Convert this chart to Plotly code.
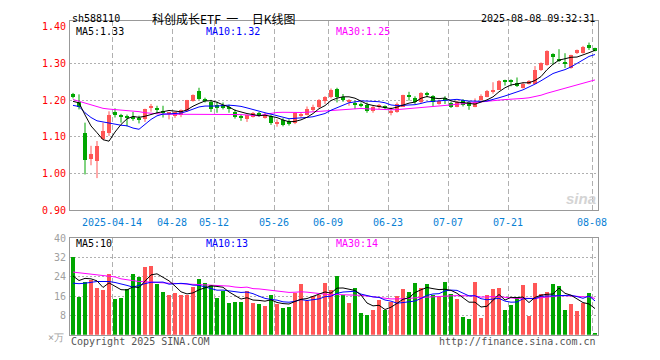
import numpy as np
import pandas as pd
import plotly.graph_objects as go

# ---------------- data ----------------
dates = [
    "2025-04-02", "2025-04-03", "2025-04-07", "2025-04-08", "2025-04-09", "2025-04-10", "2025-04-11",
    "2025-04-14", "2025-04-15", "2025-04-16", "2025-04-17", "2025-04-18", "2025-04-21", "2025-04-22",
    "2025-04-23", "2025-04-24", "2025-04-25", "2025-04-28", "2025-04-29", "2025-04-30",
    "2025-05-06", "2025-05-07", "2025-05-08", "2025-05-09", "2025-05-12", "2025-05-13", "2025-05-14",
    "2025-05-15", "2025-05-16", "2025-05-19", "2025-05-20", "2025-05-21", "2025-05-22", "2025-05-23",
    "2025-05-26", "2025-05-27", "2025-05-28", "2025-05-29", "2025-05-30",
    "2025-06-03", "2025-06-04", "2025-06-05", "2025-06-06", "2025-06-09", "2025-06-10", "2025-06-11",
    "2025-06-12", "2025-06-13", "2025-06-16", "2025-06-17", "2025-06-18", "2025-06-19", "2025-06-20",
    "2025-06-23", "2025-06-24", "2025-06-25", "2025-06-26", "2025-06-27", "2025-06-30",
    "2025-07-01", "2025-07-02", "2025-07-03", "2025-07-04", "2025-07-07", "2025-07-08", "2025-07-09",
    "2025-07-10", "2025-07-11", "2025-07-14", "2025-07-15", "2025-07-16", "2025-07-17", "2025-07-18",
    "2025-07-21", "2025-07-22", "2025-07-23", "2025-07-24", "2025-07-25", "2025-07-28", "2025-07-29",
    "2025-07-30", "2025-07-31",
    "2025-08-01", "2025-08-04", "2025-08-05", "2025-08-06", "2025-08-07", "2025-08-08",
]

open_ = [1.216, 1.195, 1.110, 1.040, 1.034, 1.094, 1.110, 1.169, 1.158, 1.155,
         1.151, 1.150, 1.150, 1.180, 1.176, 1.172, 1.163, 1.157, 1.159, 1.171,
         1.199, 1.224, 1.202, 1.196, 1.188, 1.187, 1.182, 1.168, 1.155, 1.150,
         1.155, 1.162, 1.153, 1.157, 1.138, 1.146, 1.143, 1.139, 1.158, 1.161,
         1.173, 1.182, 1.197, 1.208, 1.232, 1.208, 1.195, 1.191, 1.189, 1.188,
         1.170, 1.183, 1.182, 1.167, 1.168, 1.183, 1.215, 1.207, 1.196, 1.221,
         1.212, 1.190, 1.204, 1.193, 1.183, 1.200, 1.195, 1.183, 1.201, 1.210,
         1.223, 1.229, 1.253, 1.255, 1.248, 1.234, 1.245, 1.245, 1.282, 1.295,
         1.326, 1.311, 1.303, 1.287, 1.328, 1.328, 1.350, 1.341]
high = [1.220, 1.216, 1.139, 1.076, 1.089, 1.139, 1.170, 1.178, 1.163, 1.161,
        1.168, 1.158, 1.177, 1.190, 1.185, 1.185, 1.168, 1.168, 1.175, 1.201,
        1.216, 1.234, 1.207, 1.201, 1.196, 1.194, 1.188, 1.175, 1.161, 1.161,
        1.168, 1.168, 1.166, 1.161, 1.148, 1.151, 1.148, 1.168, 1.166, 1.183,
        1.188, 1.203, 1.211, 1.232, 1.234, 1.217, 1.203, 1.199, 1.194, 1.194,
        1.185, 1.190, 1.186, 1.181, 1.194, 1.215, 1.223, 1.211, 1.222, 1.223,
        1.214, 1.201, 1.211, 1.196, 1.199, 1.203, 1.199, 1.205, 1.216, 1.228,
        1.249, 1.255, 1.256, 1.257, 1.262, 1.249, 1.255, 1.293, 1.303, 1.336,
        1.328, 1.339, 1.328, 1.324, 1.338, 1.348, 1.357, 1.343]
low = [1.205, 1.175, 0.998, 1.023, 0.988, 1.092, 1.103, 1.153, 1.139, 1.129,
       1.144, 1.137, 1.141, 1.169, 1.164, 1.153, 1.148, 1.152, 1.154, 1.169,
       1.196, 1.201, 1.194, 1.168, 1.166, 1.175, 1.166, 1.150, 1.144, 1.141,
       1.153, 1.155, 1.150, 1.133, 1.128, 1.129, 1.131, 1.135, 1.153, 1.159,
       1.170, 1.179, 1.190, 1.205, 1.194, 1.196, 1.185, 1.176, 1.181, 1.166,
       1.166, 1.176, 1.175, 1.159, 1.166, 1.182, 1.199, 1.190, 1.192, 1.208,
       1.183, 1.188, 1.190, 1.179, 1.181, 1.183, 1.174, 1.181, 1.198, 1.208,
       1.218, 1.228, 1.240, 1.238, 1.236, 1.232, 1.243, 1.245, 1.280, 1.294,
       1.297, 1.304, 1.288, 1.286, 1.326, 1.327, 1.337, 1.333]
close = [1.211, 1.181, 1.037, 1.053, 1.076, 1.116, 1.161, 1.161, 1.156, 1.153,
         1.149, 1.148, 1.176, 1.182, 1.174, 1.164, 1.165, 1.167, 1.173, 1.200,
         1.214, 1.203, 1.200, 1.177, 1.179, 1.178, 1.175, 1.154, 1.153, 1.159,
         1.164, 1.160, 1.161, 1.139, 1.140, 1.132, 1.135, 1.166, 1.160, 1.175,
         1.183, 1.201, 1.208, 1.229, 1.208, 1.201, 1.201, 1.189, 1.187, 1.170,
         1.182, 1.185, 1.180, 1.169, 1.190, 1.214, 1.208, 1.194, 1.221, 1.214,
         1.194, 1.199, 1.202, 1.183, 1.196, 1.188, 1.184, 1.196, 1.211, 1.226,
         1.229, 1.253, 1.251, 1.249, 1.240, 1.245, 1.253, 1.282, 1.302, 1.334,
         1.319, 1.309, 1.301, 1.322, 1.337, 1.346, 1.341, 1.334]
volume = [32.0, 15.7, 21.6, 22.7, 19.3, 18.4, 25.2, 14.9, 15.3, 18.7,
          24.9, 23.7, 28.0, 28.4, 20.9, 17.6, 16.5, 17.2, 16.5, 16.5,
          19.7, 22.9, 21.2, 20.7, 15.3, 18.0, 13.2, 13.6, 13.6, 18.0,
          13.2, 12.5, 12.0, 16.4, 12.5, 10.9, 11.6, 17.3, 20.9, 14.0,
          16.0, 16.3, 21.2, 18.4, 24.4, 16.3, 13.2, 19.2, 8.8, 8.0,
          10.4, 14.4, 10.4, 13.6, 16.0, 18.8, 17.6, 21.2, 19.2, 20.8,
          16.4, 15.6, 22.0, 16.8, 14.8, 7.2, 6.4, 22.0, 6.8, 16.4,
          18.8, 19.2, 10.4, 12.4, 15.6, 20.4, 7.6, 21.2, 16.8, 17.6,
          20.8, 20.0, 10.4, 12.8, 10.0, 13.2, 17.2, 0.8]

# moving-average values before enough in-window history exists
price_ma5_head = [1.197, 1.193, 1.160, 1.130]
price_ma10_head = [1.186, 1.183, 1.166, 1.153, 1.144, 1.141, 1.137, 1.135, 1.132]
price_ma30_head = [1.202, 1.197, 1.192, 1.187, 1.181, 1.178, 1.176, 1.175, 1.174, 1.173,
                   1.171, 1.169, 1.166, 1.164, 1.163, 1.162, 1.162, 1.162, 1.162, 1.162,
                   1.162, 1.162, 1.162, 1.162, 1.162, 1.162, 1.162, 1.162, 1.161]
vol_ma5_head = [24.3, 22.4, 23.3, 23.1]
vol_ma10_head = [21.3, 21.1, 21.3, 21.7, 22.0, 22.0, 22.0, 21.6, 21.1]
vol_ma30_head = [25.9, 25.6, 25.3, 25.1, 24.8, 24.5, 24.3, 23.9, 23.1, 22.7,
                 22.3, 22.0, 21.9, 21.7, 21.6, 21.5, 21.3, 21.2, 21.1, 20.9,
                 20.8, 20.7, 20.7, 20.5, 20.5, 20.4, 20.1, 19.7, 19.5]

tick_dates = ["2025-04-14", "2025-04-28", "2025-05-12", "2025-05-26", "2025-06-09",
              "2025-06-23", "2025-07-07", "2025-07-21", "2025-08-08"]
tick_labels = ["2025-04-14", "04-28", "05-12", "05-26", "06-09", "06-23", "07-07", "07-21", "08-08"]
price_ticks = [0.90, 1.00, 1.10, 1.20, 1.30, 1.40]
price_grid = [1.00, 1.10, 1.20, 1.30]
vol_ticks = [8, 16, 24, 32, 40]

legend_price = ["MA5:1.33", "MA10:1.32", "MA30:1.25"]
legend_vol = ["MA5:10", "MA10:13", "MA30:14"]

# ---------------- derived ----------------
n = len(dates)
x = np.arange(n)
O, H, L, C, V = map(np.array, (open_, high, low, close, volume))

def ma(values, w, head):
    s = pd.Series(values).rolling(w).mean().to_numpy()
    s[:len(head)] = head
    return s

RED = "#ff5656"
GREEN = "#00a600"
up = C >= O
colors = np.where(up, RED, GREEN)

W = 528.0
def px(xp):
    return (xp - 70) / W
def py(yp):
    return 1 - yp / 360.0

fig = go.Figure()

# wicks
for mask, col in ((up, RED), (~up, GREEN)):
    wx, wy = [], []
    for i in np.where(mask)[0]:
        wx += [x[i], x[i], None]
        wy += [L[i], H[i], None]
    fig.add_trace(go.Scatter(x=wx, y=wy, mode="lines", line=dict(color=col, width=1),
                             xaxis="x", yaxis="y", hoverinfo="skip", showlegend=False))

# bodies
body_base = np.minimum(O, C)
body_h = np.maximum(np.abs(C - O), 0.003)
fig.add_trace(go.Bar(x=x, y=body_h, base=body_base, width=0.83, marker=dict(color=colors, line=dict(width=0)),
                     xaxis="x", yaxis="y", showlegend=False))

# price MAs
for w, head, col in ((30, price_ma30_head, "#ff00ff"), (10, price_ma10_head, "#0000ff"), (5, price_ma5_head, "#000000")):
    fig.add_trace(go.Scatter(x=x, y=ma(C, w, head), mode="lines", line=dict(color=col, width=1),
                             xaxis="x", yaxis="y", showlegend=False, hoverinfo="skip"))

# volume
fig.add_trace(go.Bar(x=x, y=V, width=0.83, marker=dict(color=colors, line=dict(width=0)),
                     xaxis="x2", yaxis="y2", showlegend=False))
for w, head, col in ((30, vol_ma30_head, "#ff00ff"), (10, vol_ma10_head, "#0000ff"), (5, vol_ma5_head, "#000000")):
    fig.add_trace(go.Scatter(x=x, y=ma(V, w, head), mode="lines", line=dict(color=col, width=1),
                             xaxis="x2", yaxis="y2", showlegend=False, hoverinfo="skip"))

tickvals = [dates.index(d) - 0.5 for d in tick_dates]
MONO = "DejaVu Sans Mono"
GRID = "#b0b0b0"
BORDER = "#999999"

common_x = dict(range=[-0.5, n - 0.5], tickvals=tickvals, showgrid=True, gridcolor=GRID,
                griddash="5px,3px", gridwidth=1, zeroline=False, showline=True, mirror=True,
                linecolor=BORDER, linewidth=1, ticks="", fixedrange=True)

fig.update_layout(
    width=660, height=360,
    margin=dict(l=70, r=62, t=0, b=0),
    paper_bgcolor="white", plot_bgcolor="white",
    barmode="overlay", bargap=0,
    showlegend=False,
    xaxis=dict(**common_x, domain=[0, 1], anchor="y", ticktext=tick_labels,
               tickfont=dict(family=MONO, size=10, color="#0a7fd4"), ticklabelstandoff=3),
    xaxis2=dict(**common_x, domain=[0, 1], anchor="y2", showticklabels=False),
    yaxis=dict(domain=[py(211.5), py(15.5)], range=[0.90, 1.4158], tickvals=price_ticks,
               ticktext=["%.2f" % v for v in price_ticks], tickfont=dict(family=MONO, size=10, color="#ff0000"),
               showgrid=False, zeroline=False, showline=True, mirror=True, linecolor=BORDER, ticks="",
               minor=dict(tickvals=price_grid, showgrid=True, gridcolor=GRID, griddash="2px,2px", ticklen=0),
               ticklabelstandoff=1, fixedrange=True),
    yaxis2=dict(domain=[py(340), py(240)], range=[0, 40], tickvals=vol_ticks,
                tickfont=dict(family=MONO, size=10, color="#a0a0a0"),
                showgrid=True, gridcolor=GRID, griddash="2px,2px", zeroline=False, showline=True,
                mirror=True, linecolor=BORDER, ticks="", ticklabelstandoff=1, fixedrange=True),
)

ann = []
def text(t, xp, yp, anchor="left", color="#000", size=10, family=MONO, **kw):
    ann.append(dict(text=t, x=px(xp), y=py(yp), xref="paper", yref="paper", xanchor=anchor,
                    yanchor="middle", showarrow=False, font=dict(family=family, size=size, color=color), **kw))

text("sh588110", 70, 13)
text("科创成长ETF\u00a0\u00a0一\u00a0\u00a0\u00a0\u00a0\u00a0日K线图", 150, 13, size=12,
     family="Noto Sans CJK SC", height=15)
text("2025-08-08 09:32:31", 597, 13, anchor="right")
for t, xp, col in zip(legend_price, (74, 204, 334), ("#000000", "#0000ff", "#ff00ff")):
    text(t, xp, 26, color=col)
for t, xp, col in zip(legend_vol, (74, 204, 334), ("#000000", "#0000ff", "#ff00ff")):
    text(t, xp, 246, color=col)
text("×万", 66, 343, anchor="right", color="#a0a0a0", height=13)
text("Copyright 2025 SINA.COM", 69, 347, color="#555555")
text("http://finance.sina.com.cn", 598, 347, anchor="right", color="#555555")
text("<b><i>sina</i></b>", 581, 199, anchor="center", color="#d4d4d4", size=15, family="Liberation Sans")
fig.update_layout(annotations=ann)

fig.write_html("out.html", config={"displayModeBar": False},
               post_script="document.body.style.margin='0px';")
